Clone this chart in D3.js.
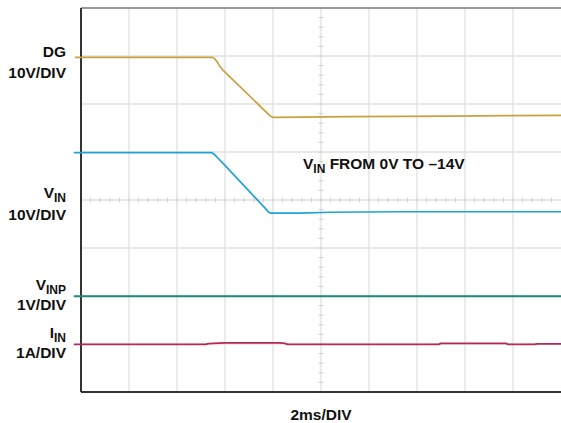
<!DOCTYPE html>
<html>
<head>
<meta charset="utf-8">
<script src="https://cdn.jsdelivr.net/npm/d3@7"></script>
<style>
  body { margin: 0; background: #fff; }
  svg { display: block; }
  text { font-family: "Liberation Sans", Arial, sans-serif; font-weight: bold; fill: #111; }
</style>
</head>
<body>
<div id="scope"></div>
<script>
// time in ms (2ms/DIV, 10 divisions)
var dgTime  = [-0.25, 5.46, 5.55, 5.65, 5.78, 5.9, 7.9, 7.97, 8.1, 11.2, 15.4, 20];
var dgVolts = [0, 0, -0.2, -0.8, -1.8, -2.6, -12.3, -12.45, -12.5, -12.35, -12.25, -12.1];

var vinTime  = [-0.3, 5.45, 5.55, 5.7, 5.88, 7.7, 7.8, 7.9, 9.1, 10.4, 13.3, 20];
var vinVolts = [0, 0, -0.3, -1.1, -2.0, -11.7, -12.3, -12.6, -12.6, -12.4, -12.3, -12.3];

var vinpTime  = [-0.3, 20];
var vinpVolts = [0, 0];

var iinTime = [-0.3, 5.2, 5.3, 5.5, 6.0, 8.3, 8.5, 8.6, 14.9, 15.0, 17.7, 17.8, 18.9, 19.0, 20];
var iinAmps = [0, 0, 0.012, 0.018, 0.03, 0.03, 0.018, 0, 0, 0.018, 0.018, 0, 0, 0.01, 0.01];

var channels = ["DG", "VIN", "VINP", "IIN"];
var scaleText = ["10V/DIV", "10V/DIV", "1V/DIV", "1A/DIV"];

(function(){

    var W = 561, H = 423;
    var left = 81, right = 561, top = 8, bottom = 392;
    var fs = "15.5px", subFs = "12px";

    var svg = d3.select("#scope").append("svg")
        .attr("width", W)
        .attr("height", H);

    var x = d3.scaleLinear().domain([0, 20]).range([left, right]);
    var yDiv = d3.scaleLinear().domain([-4, 4]).range([bottom, top]);

    // grid
    var grid = svg.append("g").attr("class", "grid");
    grid.selectAll("line.v").data(d3.range(1, 10))
        .enter().append("line")
        .attr("x1", function(d){ return x(d * 2); })
        .attr("x2", function(d){ return x(d * 2); })
        .attr("y1", top).attr("y2", bottom)
        .attr("stroke", "#e0e0e0").attr("stroke-width", 1.3);
    grid.selectAll("line.h").data(d3.range(-3, 4))
        .enter().append("line")
        .attr("x1", left).attr("x2", right)
        .attr("y1", function(d){ return yDiv(d); })
        .attr("y2", function(d){ return yDiv(d); })
        .attr("stroke", "#e0e0e0").attr("stroke-width", 1.3);

    // minor ticks on the centre lines
    grid.selectAll("line.tx").data(d3.range(0, 50).map(function(i){ return i / 5; }))
        .enter().append("line")
        .attr("x1", function(d){ return x(d * 2); })
        .attr("x2", function(d){ return x(d * 2); })
        .attr("y1", yDiv(0) - 2.5).attr("y2", yDiv(0) + 2.5)
        .attr("stroke", "#d0d0d0").attr("stroke-width", 1);
    grid.selectAll("line.ty").data(d3.range(0, 40).map(function(i){ return i / 5 - 4; }))
        .enter().append("line")
        .attr("x1", x(10) - 2.5).attr("x2", x(10) + 2.5)
        .attr("y1", function(d){ return yDiv(d); })
        .attr("y2", function(d){ return yDiv(d); })
        .attr("stroke", "#d0d0d0").attr("stroke-width", 1);

    // frame
    svg.append("line").attr("x1", left).attr("x2", right).attr("y1", top).attr("y2", top)
        .attr("stroke", "#777").attr("stroke-width", 1.5);
    svg.append("line").attr("x1", left).attr("x2", right).attr("y1", bottom).attr("y2", bottom)
        .attr("stroke", "#333").attr("stroke-width", 2);
    svg.append("line").attr("x1", left).attr("x2", left).attr("y1", top).attr("y2", bottom)
        .attr("stroke", "#333").attr("stroke-width", 2);

    // traces
    function drawTrace(times, vals, offset, perDiv, color, width){
        var pts = times.map(function(t, i){ return [t, vals[i]]; });
        var line = d3.line()
            .x(function(d){ return x(d[0]); })
            .y(function(d){ return yDiv(offset + d[1] / perDiv); });
        svg.append("path")
            .datum(pts)
            .attr("d", line)
            .attr("fill", "none")
            .attr("stroke", color)
            .attr("stroke-width", width)
            .attr("stroke-linejoin", "round");
    }

    drawTrace(dgTime, dgVolts, 2.973, 10, "#c9a13f", 1.7);
    drawTrace(vinTime, vinVolts, 0.985, 10, "#1ea3da", 1.7);
    drawTrace(vinpTime, vinpVolts, -2.006, 1, "#1b8a78", 2);
    drawTrace(iinTime, iinAmps, -3.006, 1, "#b5285a", 1.8);

    // channel labels
    function label(name, sub, y){
        var t = svg.append("text")
            .attr("x", 66).attr("y", y)
            .attr("text-anchor", "end")
            .attr("font-size", fs);
        t.append("tspan").text(name);
        if (sub) {
            t.append("tspan").attr("dy", 3.5).attr("font-size", subFs).text(sub);
        }
    }

    label(channels[0], null, 57);
    label(scaleText[0], null, 78);
    label("V", "IN", 198);
    label(scaleText[1], null, 220);
    label("V", "INP", 290);
    label(scaleText[2], null, 310);
    label("I", "IN", 338);
    label(scaleText[3], null, 358);

    svg.append("text")
        .attr("x", (left + right) / 2)
        .attr("y", 420)
        .attr("text-anchor", "middle")
        .attr("font-size", fs)
        .text("2ms/DIV");

    var note = svg.append("text")
        .attr("x", 303).attr("y", 169)
        .attr("font-size", fs);
    note.append("tspan").text("V");
    note.append("tspan").attr("dy", 4).attr("font-size", subFs).text("IN");
    note.append("tspan").attr("dy", -4).text(" FROM 0V TO \u201314V");

}());
</script>
</body>
</html>
